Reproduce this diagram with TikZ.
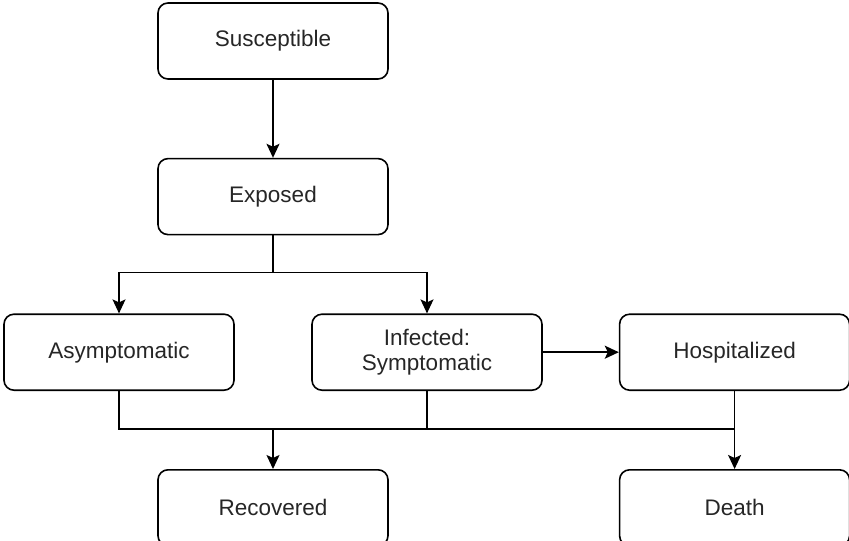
\documentclass[tikz,border=0pt]{standalone}
\usepackage{fontspec}
\setmainfont{Liberation Sans}
\usetikzlibrary{arrows.meta, positioning, calc}

\begin{document}
\begin{tikzpicture}[
    x=1pt, y=1pt,
    box/.style={rectangle, rounded corners=10pt, draw=black, line width=1.6pt, minimum width=230pt, minimum height=76pt, align=center, font=\fontsize{22.5}{25}\selectfont, text=black!85},
    arrow/.style={-{Stealth[length=14pt, width=13pt, inset=3pt]}, line width=1.6pt},
    link/.style={line width=1.6pt}
]
    % Picture frame
    \useasboundingbox (-273,41) rectangle (576,-500);

    % Nodes
    \node[box] (susc) {Susceptible};
    \node[box, below=78pt of susc] (exp) {Exposed};
    \node[box, below=78pt of exp, xshift=-154pt] (asym) {Asymptomatic};
    \node[box, below=78pt of exp, xshift=154pt] (inf) {Infected:\\Symptomatic};
    \node[box, right=76pt of inf] (hosp) {Hospitalized};
    \node[box, below=78pt of asym, xshift=154pt] (rec) {Recovered};
    \node[box, below=78pt of hosp] (death) {Death};

    % Split after exposure
    \coordinate (split) at ($(exp.south)-(0,37pt)$);
    \draw[arrow] (susc) -- (exp);
    \draw[link] (exp.south) -- (split);
    \draw[arrow] (split) -| (asym.north);
    \draw[arrow] (split) -| (inf.north);
    \draw[arrow] (inf) -- (hosp);

    % Merge towards outcomes
    \coordinate (merge) at ($(asym.south)-(0,38pt)$);
    \draw[link] (asym.south) |- (hosp.south |- merge);
    \draw[link] (inf.south) -- (inf.south |- merge);
    \draw[arrow] (rec.north |- merge) -- (rec.north);
    \draw[arrow] (hosp.south) -- (death.north);

\end{tikzpicture}
\end{document}
